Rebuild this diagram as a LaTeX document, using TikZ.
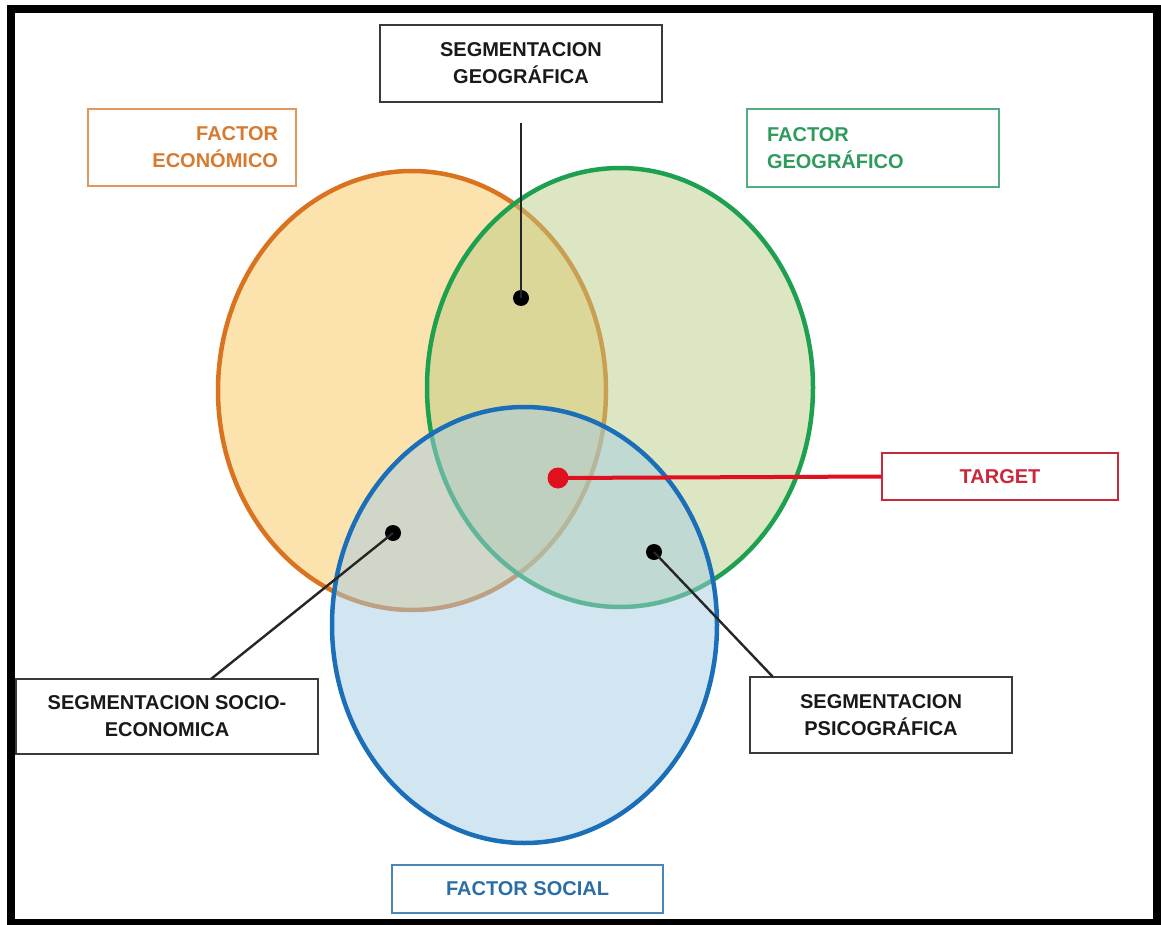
\documentclass[tikz,border=0pt]{standalone}
\usepackage{fontspec}
\setmainfont{Liberation Sans}
\usepackage{tikz}
\usetikzlibrary{positioning}

\definecolor{ecoline}{HTML}{D9731F}
\definecolor{ecofill}{HTML}{FCE2AC}
\definecolor{ecobox}{HTML}{E0965C}
\definecolor{ecotext}{HTML}{D87A2E}
\definecolor{geoline}{HTML}{1DA050}
\definecolor{geofill}{RGB}{187,205,133}
\definecolor{geobox}{HTML}{52AE80}
\definecolor{geotext}{HTML}{2E9A5C}
\definecolor{socline}{HTML}{1B6EB8}
\definecolor{socfill}{RGB}{165,205,229}
\definecolor{socbox}{HTML}{4A86B8}
\definecolor{soctext}{HTML}{2B6EA6}
\definecolor{tgtred}{HTML}{E0101E}
\definecolor{tgtbox}{HTML}{C8283A}
\definecolor{segbox}{HTML}{3A3A3A}

\newcommand{\lblfont}{\fontsize{20}{27}\selectfont\bfseries}

\begin{document}
\begin{tikzpicture}[x=1pt,y=-1pt,semithick,
        box/.style={draw=segbox,rectangle,line width=1.8pt,font=\lblfont,align=center,text=black!90,inner sep=0pt},
        dot/.style={circle,fill=black,inner sep=0pt,minimum size=16pt},
        link/.style={draw=black!85,line width=2.4pt}]
            \useasboundingbox (0,0) rectangle (1161,925);

            % the three factors
            \draw   [ecoline,line width=4.5pt,fill=ecofill]                   (412,390.5) ellipse [x radius=194,y radius=219.5];
            \draw   [geoline,line width=4.5pt,fill=geofill,fill opacity=0.5]  (620,387.5) ellipse [x radius=193,y radius=219.5];
            \draw   [socline,line width=4.5pt,fill=socfill,fill opacity=0.5]  (524.5,625) ellipse [x radius=192.5,y radius=218];

            % labels
            \node   [box,minimum width=282pt,minimum height=77pt]           (geo)   at (521,63.5)   {SEGMENTACION\\GEOGRÁFICA};
            \node   [box,draw=ecobox,text=ecotext,text width=172pt,align=right,inner xsep=18pt,minimum height=77pt]
                                                                            (eco)   at (192,147.5)  {FACTOR\\ECONÓMICO};
            \node   [box,draw=geobox,text=geotext,text width=212pt,align=left,inner xsep=20pt,minimum height=78pt]
                                                                            (geog)  at (873,148)    {FACTOR\\GEOGRÁFICO};
            \node   [box,draw=tgtbox,text=tgtbox,minimum width=236pt,minimum height=47pt]
                                                                            (tgt)   at (1000,476.5) {TARGET};
            \node   [box,minimum width=302pt,minimum height=75pt]           (socio) at (167,716.5)  {SEGMENTACION SOCIO-\\ECONOMICA};
            \node   [box,minimum width=262pt,minimum height=76pt]           (psico) at (881,715)    {SEGMENTACION\\PSICOGRÁFICA};
            \node   [box,draw=socbox,text=soctext,minimum width=271pt,minimum height=48pt]
                                                                            (soc)   at (527.5,889)  {FACTOR SOCIAL};

            % points in the overlaps
            \node   [dot]                                                   (dgeo)   at (521,298)  {};
            \node   [dot]                                                   (dsocio) at (393,533)  {};
            \node   [dot]                                                   (dpsico) at (654,552)  {};
            \node   [dot,fill=tgtred,minimum size=21pt]                     (dtgt)   at (558,478)  {};

            \coordinate (geoend)   at (521,123);
            \coordinate (socioend) at (211,679);
            \coordinate (psicoend) at (773,677);

            \path   [link] (dgeo.center)   -- (geoend);
            \path   [link] (dsocio.center) -- (socioend);
            \path   [link] (dpsico.center) -- (psicoend);
            \path   [draw=tgtred,line width=4pt] (dtgt.center) -- (tgt.west);

            % frame
            \draw   [line width=8pt] (11,9) rectangle (1157,923);
        \end{tikzpicture}
\end{document}
